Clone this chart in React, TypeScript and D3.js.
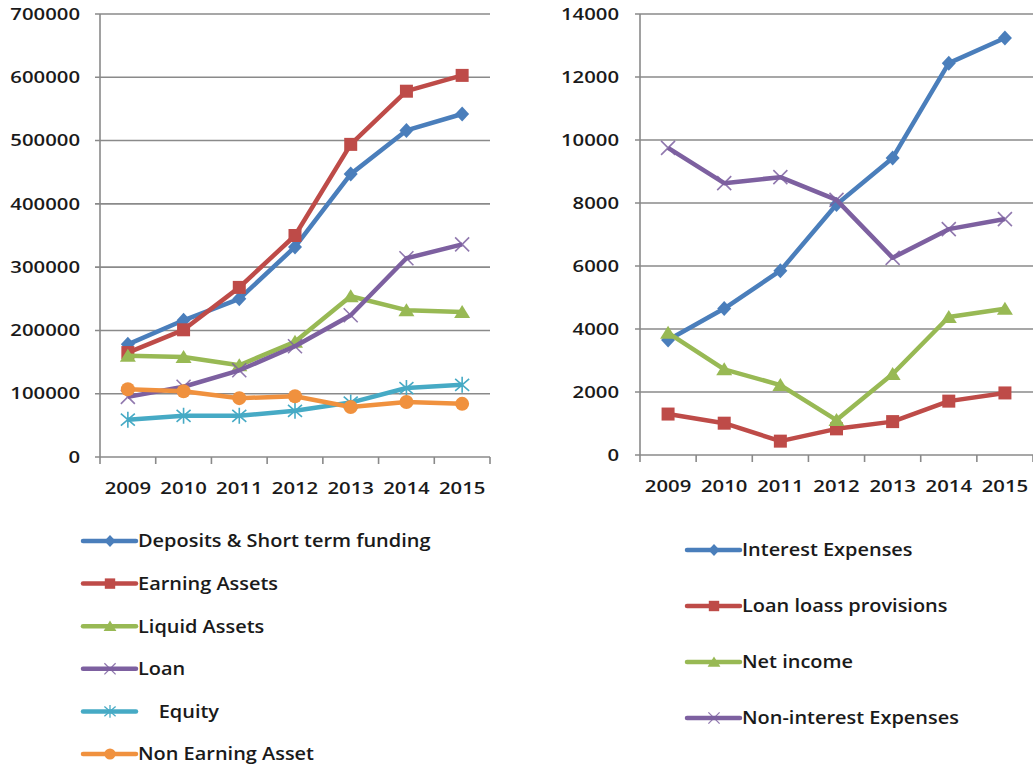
import * as d3 from "d3";
import React from "react";

const years = ["2009", "2010", "2011", "2012", "2013", "2014", "2015"];

// left chart
const deposits = [178000, 216000, 250000, 332000, 447000, 516000, 542000];
const earningAssets = [165000, 201000, 268000, 350000, 494000, 578000, 603000];
const liquidAssets = [160000, 158000, 145000, 182000, 254000, 232000, 229000];
const loan = [95000, 111000, 137000, 175000, 224000, 314000, 336000];
const equity = [59000, 65000, 65000, 73000, 86000, 109000, 114000];
const nonEarning = [107000, 104000, 93000, 96000, 79000, 87000, 84000];
const leftTicks = [0, 100000, 200000, 300000, 400000, 500000, 600000, 700000];

// right chart
const interestExp = [3650, 4650, 5850, 7950, 9430, 12440, 13240];
const loanLoss = [1300, 1010, 440, 830, 1060, 1710, 1970];
const netIncome = [3880, 2720, 2220, 1110, 2570, 4380, 4640];
const nonInterestExp = [9750, 8630, 8820, 8100, 6260, 7170, 7490];
const rightTicks = [0, 2000, 4000, 6000, 8000, 10000, 12000, 14000];

const GRID = "#8a8a8a";
const FONT = "'Open Sans', sans-serif";
const SX = 1.27; // text in the reference is horizontally stretched

type Marker = "diamond" | "square" | "triangle" | "x" | "star" | "circle";
type Series = { name: string; values: number[]; color: string; marker: Marker };

const leftSeries: Series[] = [
  { name: "Deposits & Short term funding", values: deposits, color: "#4a7ebb", marker: "diamond" },
  { name: "Earning Assets", values: earningAssets, color: "#be4b48", marker: "square" },
  { name: "Liquid Assets", values: liquidAssets, color: "#98b954", marker: "triangle" },
  { name: "Loan", values: loan, color: "#7d60a0", marker: "x" },
  { name: "    Equity", values: equity, color: "#46aac5", marker: "star" },
  { name: "Non Earning Asset", values: nonEarning, color: "#f0913e", marker: "circle" },
];

const rightSeries: Series[] = [
  { name: "Interest Expenses", values: interestExp, color: "#4a7ebb", marker: "diamond" },
  { name: "Loan loass provisions", values: loanLoss, color: "#be4b48", marker: "square" },
  { name: "Net income", values: netIncome, color: "#98b954", marker: "triangle" },
  { name: "Non-interest Expenses", values: nonInterestExp, color: "#7d60a0", marker: "x" },
];

const MarkerShape = ({ type, x, y, color, s = 1 }: { type: Marker; x: number; y: number; color: string; s?: number }) => {
  const t = `translate(${x},${y}) scale(${s})`;
  switch (type) {
    case "diamond":
      return <path transform={t} d="M0,-7.5L7,0L0,7.5L-7,0Z" fill={color} />;
    case "square":
      return <rect transform={t} x={-6.5} y={-6.5} width={13} height={13} fill={color} />;
    case "triangle":
      return <path transform={t} d="M0,-7L8,6L-8,6Z" fill={color} />;
    case "circle":
      return <circle transform={t} r={7} fill={color} />;
    case "x":
      return <path transform={t} d="M-7,-7L7,7M-7,7L7,-7" stroke={color} strokeWidth={1.6} opacity={0.85} fill="none" />;
    case "star":
      return <path transform={t} d="M-7,-6L7,6M-7,6L7,-6M0,-8L0,8" stroke={color} strokeWidth={1.6} fill="none" />;
  }
};

const LineChart = ({ series, ticks, left, right, top, bottom, labelX, max }: {
  series: Series[]; ticks: number[]; left: number; right: number; top: number; bottom: number; labelX: number; max: number;
}) => {
  const x = d3.scaleBand().domain(years).range([left, right]);
  const y = d3.scaleLinear().domain([0, max]).range([bottom, top]);
  const line = d3.line<number>()
    .x((_, i) => (x(years[i]) as number) + x.bandwidth() / 2)
    .y((d) => y(d));
  const edges = years.map((yr) => x(yr) as number).concat([right]);

  return (
    <g>
      {ticks.map((t) => (
        <g key={t}>
          <line x1={left - 5} x2={right} y1={y(t)} y2={y(t)} stroke={GRID} strokeWidth={1.6} />
          <g transform={`translate(${labelX},${y(t)}) scale(${SX},1)`}>
            <text textAnchor="end" dy="0.36em" fontSize={16} fontWeight={600} fill="#1a1a1a" fontFamily={FONT}>
              {t}
            </text>
          </g>
        </g>
      ))}
      <line x1={left} x2={left} y1={top} y2={bottom} stroke={GRID} strokeWidth={1.6} />
      {edges.map((e, i) => (
        <line key={i} x1={e} x2={e} y1={bottom} y2={bottom + 7} stroke={GRID} strokeWidth={1.6} />
      ))}
      {years.map((yr) => (
        <g key={yr} transform={`translate(${(x(yr) as number) + x.bandwidth() / 2},${bottom + 37}) scale(${SX},1)`}>
          <text textAnchor="middle" fontSize={16} fontWeight={600} fill="#1a1a1a" fontFamily={FONT}>
            {yr}
          </text>
        </g>
      ))}
      {series.map((s) => (
        <g key={s.name}>
          <path d={line(s.values) ?? ""} fill="none" stroke={s.color} strokeWidth={4.5} strokeLinejoin="round" />
          {s.values.map((v, i) => (
            <MarkerShape key={i} type={s.marker} x={(x(years[i]) as number) + x.bandwidth() / 2} y={y(v)} color={s.color} />
          ))}
        </g>
      ))}
    </g>
  );
};

const Legend = ({ series, x0, y0, step }: { series: Series[]; x0: number; y0: number; step: number }) => (
  <g>
    {series.map((s, i) => {
      const yy = y0 + i * step;
      return (
        <g key={s.name}>
          <line x1={x0} x2={x0 + 53} y1={yy} y2={yy} stroke={s.color} strokeWidth={4.5} strokeLinecap="round" />
          <MarkerShape type={s.marker} x={x0 + 27} y={yy} color={s.color} s={0.8} />
          <g transform={`translate(${x0 + 55},${yy}) scale(1.14,1)`}>
            <text dy="0.36em" fontSize={17.5} fontWeight={600} fill="#1a1a1a" fontFamily={FONT} style={{ whiteSpace: "pre" }}>
              {s.name}
            </text>
          </g>
        </g>
      );
    })}
  </g>
);

export default function App() {
  return (
    <svg width={1033} height={766} style={{ position: "absolute", left: 0, top: 0, background: "#fff" }}>
      <LineChart series={leftSeries} ticks={leftTicks} left={100} right={490} top={14} bottom={457} labelX={80} max={700000} />
      <LineChart series={rightSeries} ticks={rightTicks} left={640} right={1033} top={14} bottom={455} labelX={619} max={14000} />
      <Legend series={leftSeries} x0={83} y0={541} step={42.6} />
      <Legend series={rightSeries} x0={687} y0={550} step={56} />
    </svg>
  );
}
